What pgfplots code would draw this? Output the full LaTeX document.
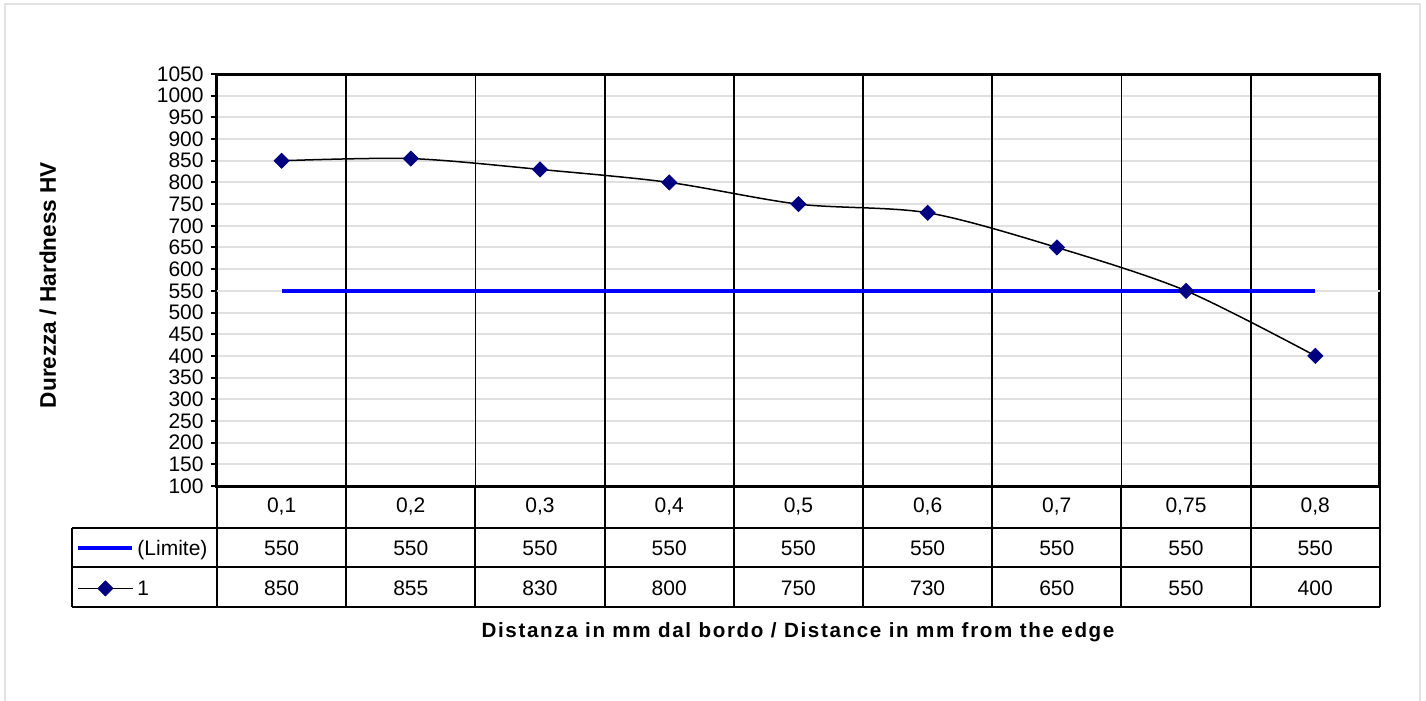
\documentclass[border=0pt]{standalone}
\usepackage{fontspec}
\setmainfont{Liberation Sans}
\newfontfamily\spacedbold[LetterSpace=8,BoldFont={Liberation Sans Bold}]{Liberation Sans}
\usepackage{pgfplots}
\pgfplotsset{compat=1.18}
\definecolor{navy}{RGB}{0,0,128}
\definecolor{limblue}{RGB}{0,0,255}
\definecolor{gridgray}{RGB}{224,224,224}
\definecolor{framegray}{RGB}{226,226,226}
\newcommand{\fs}{\fontsize{10.5}{12}\selectfont}
\begin{document}
\begin{tikzpicture}[x=0.5pt,y=-0.5pt]
\path[use as bounding box] (0,0) rectangle (1426,701);
\fill[white] (0,0) rectangle (1426,701);
\draw[framegray, line width=1pt] (5,4) rectangle (1420,760);
\coordinate (sw) at (217,486);
\begin{axis}[
  at={(sw)}, anchor=south west, scale only axis,
  width=581.5pt, height=206pt,
  xmin=-0.5, xmax=8.5, ymin=100, ymax=1050,
  clip=false,
  axis line style={black, line width=1.5pt},
  xtick=\empty,
  ytick={100,150,...,1050},
  ytick pos=left,
  ymajorgrids, y grid style={gridgray, line width=1pt},
  ytick style={black, line width=1pt},
  tick align=outside, major tick length=3pt,
  extra y ticks={550}, extra y tick labels={},
  extra y tick style={grid=major, major grid style={black, line width=0.9pt}, major tick length=0pt},
  /pgf/number format/assume math mode=true,
  /pgf/number format/set thousands separator={},
  yticklabel style={font=\fs, inner sep=1pt, xshift=-2.5pt},
  legend image code/.code={\draw[mark repeat=2, mark phase=2, #1] plot coordinates {(0pt,0pt) (13.5pt,0pt) (27pt,0pt)};},
  legend style={at={(rel axis cs:-0.1212,-0.1019)}, anchor=north west, draw=none, fill=none,
    font=\fs, inner sep=0pt, row sep=0pt,
    nodes={inner sep=0pt, text height=13.4pt, text depth=6.6pt, anchor=west},
    /tikz/every odd column/.style={column sep=1.5pt}},
  legend cell align=left,
]
\pgfplotsinvokeforeach{0.5,1.5,2.5,3.5,4.5,5.5,6.5,7.5}{
  \draw[black, line width=0.9pt] (axis cs:#1,100) -- (axis cs:#1,1050);
}
\addplot[limblue, line width=2pt] coordinates {(0,550) (1,550) (2,550) (3,550) (4,550) (5,550) (6,550) (7,550) (8,550)};
\addlegendentry{(Limite)}
\addplot[black, line width=0.75pt, smooth, tension=0.5, mark=square*, mark size=2.7pt,
  mark options={rotate=45, fill=navy, draw=navy, solid, line width=0.3pt}]
  coordinates {(0,850) (1,855) (2,830) (3,800) (4,750) (5,730) (6,650) (7,550) (8,400)};
\addlegendentry{1}
\end{axis}
% data table grid
\begin{scope}[black, line width=1pt]
\draw (72,528) -- (1380,528);
\draw (72,567) -- (1380,567);
\draw (72,607) -- (1380,607);
\draw (72,528) -- (72,607);
\draw (217,486) -- (217,607);
\draw (1380,486) -- (1380,607);
\foreach \k in {1,...,8} { \draw ({217+129.2*\k},486) -- ({217+129.2*\k},607); }
\end{scope}
\foreach \v [count=\i from 0] in {{0,1},{0,2},{0,3},{0,4},{0,5},{0,6},{0,7},{0,75},{0,8}}
  { \node[font=\fs] at ({281.6+129.2*\i},507) {\v}; }
\foreach \v [count=\i from 0] in {550,550,550,550,550,550,550,550,550}
  { \node[font=\fs] at ({281.6+129.2*\i},548) {\v}; }
\foreach \v [count=\i from 0] in {850,855,830,800,750,730,650,550,400}
  { \node[font=\fs] at ({281.6+129.2*\i},588) {\v}; }
\node[font=\spacedbold\bfseries\fontsize{10.3}{12}\selectfont] at (798,632) {Distanza in mm dal bordo / Distance in mm from the edge};
\node[font=\bfseries\fontsize{11.3}{13}\selectfont, rotate=90] at (48,285) {Durezza / Hardness HV};
\end{tikzpicture}
\end{document}
